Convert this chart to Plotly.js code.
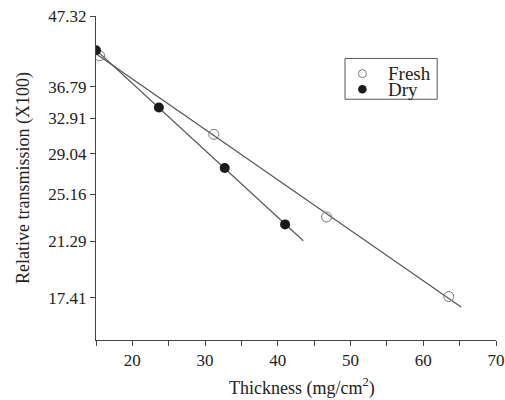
<!DOCTYPE html>
<html>
<head>
<meta charset="utf-8">
<script src="https://cdn.plot.ly/plotly-3.0.1.min.js"></script>
<style>html,body{margin:0;padding:0;background:#fff;}#chart{width:505px;height:400px;}</style>
</head>
<body>
<div id="chart"></div>
<script>
// Data
const freshX = [15.5, 31.2, 46.7, 63.5];
const freshY = [41.1, 31.1, 23.2, 17.5];
const dryX = [15.0, 23.65, 32.7, 41.0];
const dryY = [41.9, 34.2, 27.6, 22.6];
// Extent of the fitted lines (x range)
const freshFitRange = [15.0, 65.2];
const dryFitRange = [15.0, 43.5];
const yTickVals = [17.41, 21.29, 25.16, 29.04, 32.91, 36.79, 47.32];
const yTickText = ["17.41", "21.29", "25.16", "29.04", "32.91", "36.79", "47.32"];
const xTickVals = [20, 30, 40, 50, 60, 70];
const xTickText = ["20", "30", "40", "50", "60", "70"];
const seriesNames = ["Fresh", "Dry"];
const xTitle = 'Thickness (mg/cm<sup>2</sup>)';
const yTitle = 'Relative transmission (X100)';

// exponential least-squares fit (straight line on log axis)
function expFit(xs, ys, range) {
  const n = xs.length;
  const ly = ys.map(v => Math.log(v));
  const mx = xs.reduce((a, b) => a + b, 0) / n;
  const my = ly.reduce((a, b) => a + b, 0) / n;
  let sxy = 0, sxx = 0;
  for (let i = 0; i < n; i++) { sxy += (xs[i] - mx) * (ly[i] - my); sxx += (xs[i] - mx) ** 2; }
  const b = sxy / sxx, a = my - b * mx;
  return { x: range, y: range.map(x => Math.exp(a + b * x)) };
}
const ff = expFit(freshX, freshY, freshFitRange);
const df = expFit(dryX, dryY, dryFitRange);

const font = "'Liberation Serif', 'Times New Roman', serif";
const txt = '#222';
const freshMarker = { symbol: 'circle-open', size: 10, color: '#777', line: { width: 1, color: '#777' } };
const dryMarker = { symbol: 'circle', size: 10, color: '#1a1a1a' };

// legend layout (overlay axes in [0,1] units of the plot area)
const legX0 = 0.6225, legX1 = 0.853, legY0 = 0.743, legY1 = 0.869;
const legSymX = 0.666, legTextX = 0.724, legRowY = [0.822, 0.774];

const traces = [
  { x: ff.x, y: ff.y, mode: 'lines', line: { color: '#555', width: 1.2 }, showlegend: false, hoverinfo: 'skip' },
  { x: df.x, y: df.y, mode: 'lines', line: { color: '#555', width: 1.2 }, showlegend: false, hoverinfo: 'skip' },
  { x: freshX, y: freshY, mode: 'markers', name: seriesNames[0], marker: freshMarker, showlegend: false },
  { x: dryX, y: dryY, mode: 'markers', name: seriesNames[1], marker: dryMarker, showlegend: false },
  // legend symbols
  { x: [legSymX], y: [legRowY[0]], xaxis: 'x2', yaxis: 'y2', mode: 'markers',
    marker: { symbol: 'circle-open', size: 8, color: '#777', line: { width: 1, color: '#777' } }, showlegend: false, hoverinfo: 'skip' },
  { x: [legSymX], y: [legRowY[1]], xaxis: 'x2', yaxis: 'y2', mode: 'markers',
    marker: { symbol: 'circle', size: 8.5, color: '#1a1a1a' }, showlegend: false, hoverinfo: 'skip' }
];
const layout = {
  width: 505, height: 400,
  margin: { l: 96, r: 9, t: 16, b: 60 },
  paper_bgcolor: '#fff', plot_bgcolor: '#fff',
  font: { family: font, size: 17, color: txt },
  showlegend: false,
  xaxis: {
    range: [15, 70], tickmode: 'array', tickvals: xTickVals, ticktext: xTickText,
    ticks: 'outside', ticklen: 5, tickcolor: '#444', showline: true, linecolor: '#444', linewidth: 1,
    minor: { tickmode: 'linear', tick0: 15, dtick: 5, ticks: 'outside', ticklen: 5, tickcolor: '#444' },
    showgrid: false, zeroline: false
  },
  yaxis: {
    type: 'log', range: [Math.log10(15), Math.log10(47.32)],
    tickmode: 'array', tickvals: yTickVals, ticktext: yTickText,
    ticks: 'outside', ticklen: 5, tickcolor: '#444', showline: true, linecolor: '#444', linewidth: 1,
    showgrid: false, zeroline: false,
    title: { text: yTitle, font: { family: font, size: 18, color: txt }, standoff: 14 }
  },
  xaxis2: { overlaying: 'x', range: [0, 1], visible: false, fixedrange: true },
  yaxis2: { overlaying: 'y', range: [0, 1], visible: false, fixedrange: true },
  shapes: [
    { type: 'rect', xref: 'x2', yref: 'y2', x0: legX0, x1: legX1, y0: legY0, y1: legY1,
      line: { color: '#555', width: 1 }, fillcolor: 'rgba(0,0,0,0)' }
  ],
  annotations: [
    { xref: 'paper', yref: 'paper', x: 0.514, y: -0.146, text: xTitle, showarrow: false,
      xanchor: 'center', yanchor: 'middle', font: { family: font, size: 18, color: txt } },
    { xref: 'x2', yref: 'y2', x: legTextX, y: legRowY[0], text: seriesNames[0], showarrow: false,
      xanchor: 'left', yanchor: 'middle', font: { family: font, size: 19, color: txt } },
    { xref: 'x2', yref: 'y2', x: legTextX, y: legRowY[1], text: seriesNames[1], showarrow: false,
      xanchor: 'left', yanchor: 'middle', font: { family: font, size: 19, color: txt } }
  ]
};
Plotly.newPlot('chart', traces, layout, { displayModeBar: false, staticPlot: true });
</script>
</body>
</html>
